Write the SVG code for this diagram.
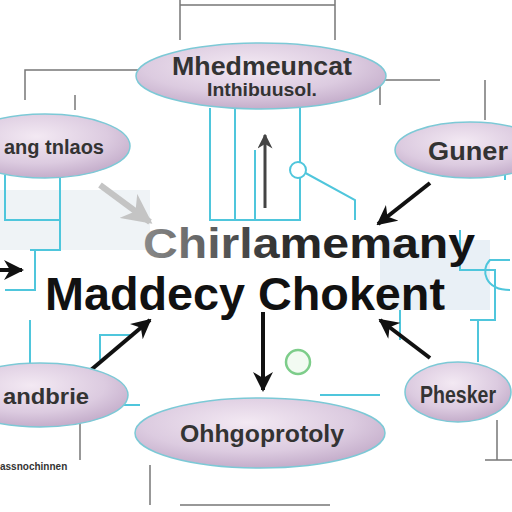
<svg xmlns="http://www.w3.org/2000/svg" width="512" height="512" viewBox="0 0 512 512">
<defs>
<radialGradient id="pill" cx="0.45" cy="0.35" r="0.7">
<stop offset="0" stop-color="#f3e9f3"/>
<stop offset="0.6" stop-color="#dccbe0"/>
<stop offset="1" stop-color="#bfa7c6"/>
</radialGradient>
<linearGradient id="title" x1="0" y1="0" x2="1" y2="0">
<stop offset="0" stop-color="#8a8a8a"/>
<stop offset="0.45" stop-color="#2a2a2a"/>
<stop offset="1" stop-color="#111"/>
</linearGradient>
<marker id="ah" viewBox="0 0 10 10" refX="9" refY="5" markerWidth="5" markerHeight="5" orient="auto"><path d="M0,0 L10,5 L0,10 L3,5 z" fill="#111"/></marker>
<marker id="ahg" viewBox="0 0 10 10" refX="9" refY="5" markerWidth="5" markerHeight="5" orient="auto"><path d="M0,0 L10,5 L0,10 L3,5 z" fill="#444"/></marker>
<marker id="ahl" viewBox="0 0 10 10" refX="9" refY="5" markerWidth="5" markerHeight="5" orient="auto"><path d="M0,0 L10,5 L0,10 L3,5 z" fill="#c4c4c4"/></marker>
</defs>
<style>
.pill{fill:url(#pill);stroke:#7cc9d6;stroke-width:1.5}
.lbl{font-family:"Liberation Sans",Arial,sans-serif;font-weight:bold;fill:#333;text-anchor:middle}
.st{text-anchor:start}
.cy{fill:none;stroke:#4fc6dc;stroke-width:2}
.gl{fill:none;stroke:#777;stroke-width:1.5}
.ar{stroke:#111;stroke-width:4;fill:none}
</style>
<rect width="512" height="512" fill="#fff"/>
<g id="background">
<rect x="0" y="190" width="150" height="60" fill="#e8eef2" opacity="0.7"/>
<rect x="380" y="240" width="110" height="70" fill="#dfe9f2" opacity="0.7"/>
</g>
<g id="connectors">
<path class="gl" d="M180 0 V40 M335 0 V40 M180 5 H335"/>
<path class="gl" d="M25 100 V70 H140"/>
<path class="gl" d="M380 105 V80 H440 M485 80 V120"/>
<path class="gl" d="M75 110 V95"/>
<path class="cy" d="M210 108 V220 H300 V108 M235 108 V220 M255 150 V220"/>
<path class="cy" d="M300 170 L355 200 V220"/>
<path class="cy" d="M5 175 V220 H60 V250 H30 M60 175 V220"/>
<path class="cy" d="M35 250 V290 H5"/>
<path class="cy" d="M30 320 V365 M100 360 V335 H130"/>
<path class="cy" d="M460 230 V270 H495 V320 H470 M478 320 V362"/>
<path class="cy" d="M400 310 V340"/>
<path class="cy" d="M380 395 H320 M140 405 H90"/>
<path class="cy" d="M505 130 V180"/>
<path class="cy" d="M510 260 H490 C480 270 485 290 510 290"/>
<circle cx="298" cy="170" r="8" fill="#fff" stroke="#4fc6dc" stroke-width="2"/>
<circle cx="298" cy="362" r="12" fill="#f2fbf2" stroke="#7dcd8a" stroke-width="2.5"/>
<path class="gl" d="M80 420 V460 M150 465 V505 M180 505 H330"/>
<path class="gl" d="M497 420 V460 M485 460 H512"/>
<path stroke="#444" stroke-width="3" d="M265 208 V135" marker-end="url(#ahg)"/>
<path stroke="#c4c4c4" stroke-width="6" d="M100 185 L150 222" marker-end="url(#ahl)"/>
<path class="ar" d="M430 183 L378 224" marker-end="url(#ah)"/>
<path class="ar" d="M430 358 L380 320" marker-end="url(#ah)"/>
<path class="ar" d="M85 375 L150 320" marker-end="url(#ah)"/>
<path class="ar" d="M263 312 V390" marker-end="url(#ah)"/>
<path class="ar" d="M0 270 H22" marker-end="url(#ah)"/>
</g>
<g id="node-top">
<ellipse class="pill" cx="261" cy="76" rx="125" ry="33"/>
<text class="lbl" x="262" y="75" font-size="26" fill="#444" textLength="180" lengthAdjust="spacingAndGlyphs">Mhedmeuncat</text>
<text class="lbl" x="262" y="96" font-size="19" textLength="110" lengthAdjust="spacingAndGlyphs">Inthibuusol.</text>
</g>
<g id="node-left-upper">
<ellipse class="pill" cx="45" cy="146" rx="85" ry="32"/>
<text class="lbl st" x="4" y="154" font-size="20" fill="#555" textLength="100" lengthAdjust="spacingAndGlyphs">ang tnlaos</text>
</g>
<g id="node-right-upper">
<ellipse class="pill" cx="470" cy="150" rx="75" ry="28"/>
<text class="lbl st" x="428" y="160" font-size="26" textLength="80" lengthAdjust="spacingAndGlyphs">Guner</text>
</g>
<g id="node-center">
<text x="143" y="258" font-family="'Liberation Sans',Arial,sans-serif" font-size="42" font-weight="bold" fill="url(#title)" textLength="332" lengthAdjust="spacingAndGlyphs">Chirlamemany</text>
<text x="45" y="310" font-family="'Liberation Sans',Arial,sans-serif" font-size="46" font-weight="bold" fill="#111" textLength="400" lengthAdjust="spacingAndGlyphs">Maddecy Chokent</text>
</g>
<g id="node-left-lower">
<ellipse class="pill" cx="40" cy="395" rx="88" ry="32"/>
<text class="lbl st" x="3" y="404" font-size="22" textLength="86" lengthAdjust="spacingAndGlyphs">andbrie</text>
</g>
<g id="node-bottom">
<ellipse class="pill" cx="260" cy="433" rx="125" ry="35"/>
<text class="lbl" x="262" y="442" font-size="24" fill="#222" textLength="164" lengthAdjust="spacingAndGlyphs">Ohhgoprotoly</text>
</g>
<g id="node-right-lower">
<ellipse class="pill" cx="458" cy="392" rx="53" ry="30"/>
<text class="lbl st" x="420" y="403" font-size="24" textLength="76" lengthAdjust="spacingAndGlyphs">Phesker</text>
</g>
<text x="0" y="470" font-family="'Liberation Sans',Arial,sans-serif" font-size="10" font-weight="bold" fill="#333">assnochinnen</text>
</svg>
